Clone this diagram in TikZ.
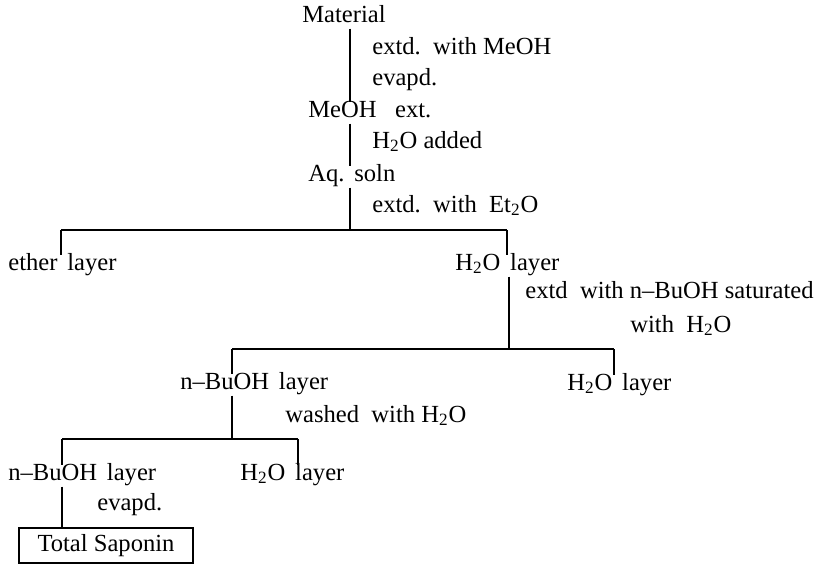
\documentclass[tikz,border=0pt]{standalone}
\usepackage{fontspec}
\setmainfont{Liberation Serif}
\usetikzlibrary{positioning}

\newcommand{\HtwoO}{H\textsubscript{2}O}
\newcommand{\wgap}{\hspace{0.4em}}

\begin{document}
\begin{tikzpicture}[
    x=0.02cm,
    y=-0.02cm,
    every node/.style={
        font=\fontsize{14}{16}\selectfont
    },
    stage/.style={
        inner sep=0pt,
        text height=0.85em,
        text depth=0.35em,
        anchor=base west
    },
    note/.style={
        inner sep=0pt,
        anchor=base west
    },
    line/.style={
        line width=0.9pt
    },
    tick/.style={
        line width=0.6pt
    },
    result/.style={
        draw,
        line width=0.6pt,
        rectangle,
        minimum width=3.48cm,
        minimum height=0.7cm,
        inner sep=0pt
    }
]
\useasboundingbox (0,0) rectangle (819,566);

% Main column
\node[stage, anchor=base] (material) at (344,22) {Material};
\node[stage] (meohext) at (308,117) {MeOH\hspace{0.75em}ext.};
\node[stage] (aqsoln) at (308,181) {Aq.\wgap soln};

% Steps on the main column
\node[note] (extdmeoh) at (372,54) {extd.~~with MeOH};
\node[note] (evapdA) at (372,85) {evapd.};
\node[note] (wateradded) at (372,148) {\HtwoO~added};
\node[note] (extdether) at (372,212) {extd.~~with~~Et\textsubscript{2}O};

% First partition
\node[stage] (etherlayer) at (8,270) {ether\wgap layer};
\node[stage] (waterA) at (455,270) {\HtwoO\wgap layer};
\node[note] (extdbuoh) at (525,298) {extd~~with n--BuOH saturated};
\node[note] (withwater) at (630,332) {with~~\HtwoO};

% Second partition
\node[stage] (buohA) at (180,389) {n--BuOH\wgap layer};
\node[stage] (waterB) at (567,390) {\HtwoO\wgap layer};
\node[note] (washed) at (285,422) {washed~~with~\HtwoO};

% Third partition
\node[stage] (buohB) at (8,480) {n--BuOH\wgap layer};
\node[stage] (waterC) at (240,480) {\HtwoO\wgap layer};
\node[note] (evapdB) at (97,510) {evapd.};

% Product
\node[result] (saponin) at (106,545.5) {Total Saponin};

% Split points
\coordinate (s1) at (350,230);
\coordinate (s1l) at (61,230);
\coordinate (s1r) at (507,230);
\coordinate (s2) at (509,349);
\coordinate (s2l) at (232,349);
\coordinate (s2r) at (614,349);
\coordinate (s3) at (232,439);
\coordinate (s3l) at (62,439);
\coordinate (s3r) at (298,439);

% Main column lines
\draw[line] (material.south -| s1) -- (meohext.north -| s1);
\draw[line] (meohext.south -| s1) -- (aqsoln.north -| s1);
\draw[line] (aqsoln.south -| s1) -- (s1);

% First partition lines
\draw[line] (s1l) -- (s1r);
\draw[tick] (s1l) -- (s1l |- etherlayer.north);
\draw[tick] (s1r) -- (s1r |- waterA.north);
\draw[line] (waterA.south -| s2) -- (s2);

% Second partition lines
\draw[line] (s2l) -- (s2r);
\draw[tick] (s2l) -- (s2l |- buohA.north);
\draw[tick] (s2r) -- (s2r |- waterB.north);
\draw[line] (buohA.south -| s3) -- (s3);

% Third partition lines
\draw[line] (s3l) -- (s3r);
\draw[tick] (s3l) -- (s3l |- buohB.north);
\draw[tick] (s3r) -- (s3r |- waterC.north);
\draw[line] (buohB.south -| s3l) -- (s3l |- saponin.north);

\end{tikzpicture}
\end{document}
